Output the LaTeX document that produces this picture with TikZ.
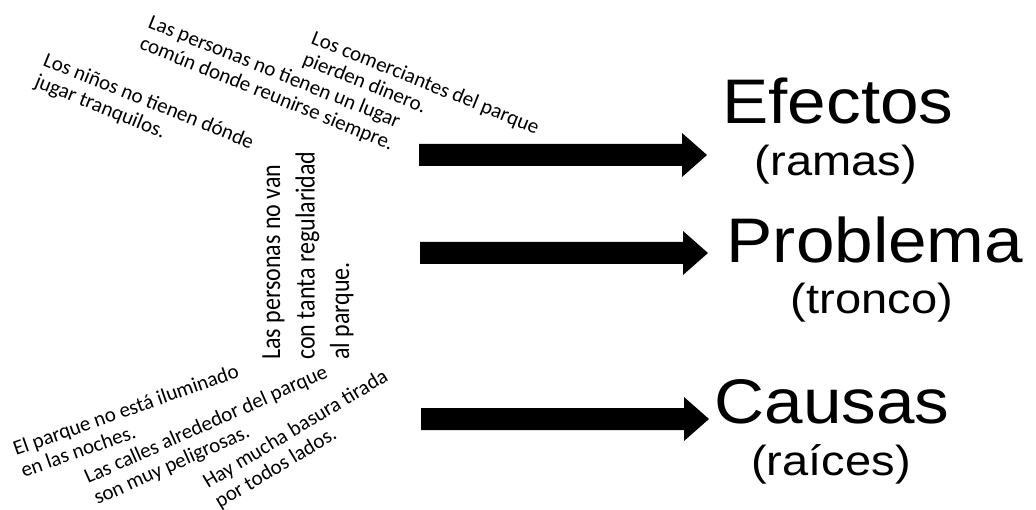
\documentclass[tikz,border=0pt]{standalone}
\usepackage{fontspec}
\setmainfont{Carlito}
\newfontfamily\arialf{Liberation Sans}
\begin{document}
\begin{tikzpicture}[x=1pt,y=-1pt,
  smalltext/.style={font=\fontsize{21}{23}\selectfont, align=left, anchor=base west, inner sep=0pt},
  vtext/.style={font=\fontsize{24}{30}\selectfont, align=left, anchor=base west, inner sep=0pt, rotate=90, yscale=1.15},
  biglabel/.style={font=\arialf\fontsize{63}{70}\selectfont, anchor=base, inner sep=0pt, xscale=1.1},
  sublabel/.style={font=\arialf\fontsize{42}{48}\selectfont, anchor=base, inner sep=0pt, xscale=1.12},
  arrowfill/.style={fill=black}
]
\useasboundingbox (0,0) rectangle (1036,510);

% effects (top) -- positions are the baseline start of the last line
\node[smalltext, rotate=-22] (e1) at (33.4,86.3) {Los niños no tienen dónde\\jugar tranquilos.};
\node[smalltext, rotate=-22] (e2) at (138.4,48.3) {Las personas no tienen un lugar\\común donde reunirse siempre.};
\node[smalltext, rotate=-22] (e3) at (301.4,64.3) {Los comerciantes del parque\\pierden dinero.};

% problem (vertical)
\node[vtext] (p1) at (349,360) {Las personas no van\\con tanta regularidad\\al parque.};

% causes (bottom)
\node[smalltext, rotate=19.5] (c1) at (23.7,477.7) {El parque no está iluminado\\en las noches.};
\node[smalltext, rotate=24] (c2) at (97.4,505) {Las calles alrededor del parque\\son muy peligrosas.};
\node[smalltext, rotate=31] (c3) at (219.8,508.7) {Hay mucha basura tirada\\por todos lados.};

% arrows
\coordinate (a1) at (419,155);
\coordinate (a2) at (420,253);
\coordinate (a3) at (421,419);
\foreach \a in {a1,a2,a3}{
  \fill[arrowfill] (\a) ++(0,-11) -- ++(263,0) -- ++(0,-11) -- ++(25,22) -- ++(-25,22) -- ++(0,-11) -- ++(-263,0) -- cycle;
}

% labels
\node[biglabel] (ef) at (838,124) {Efectos};
\node[sublabel] (ram) at (836,176) {(ramas)};
\node[biglabel] (pr) at (875,263) {Problema};
\node[sublabel] (tro) at (872,314) {(tronco)};
\node[biglabel] (ca) at (832,423) {Causas};
\node[sublabel] (rai) at (831,475) {(raíces)};
\end{tikzpicture}
\end{document}
